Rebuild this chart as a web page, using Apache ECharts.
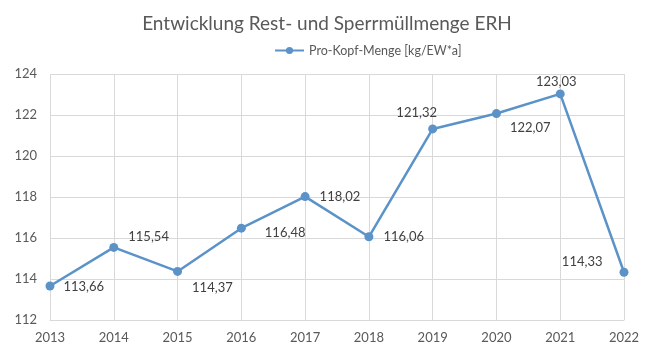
<!DOCTYPE html>
<html><head><meta charset="utf-8">
<script src="https://cdn.jsdelivr.net/npm/echarts@6/dist/echarts.min.js"></script>
<style>html,body{margin:0;padding:0;background:#fff}#c{width:654px;height:359px}</style>
</head><body><div id="c"></div>
<script>
const years = ['2013','2014','2015','2016','2017','2018','2019','2020','2021','2022'];
const values = [113.66, 115.54, 114.37, 116.48, 118.02, 116.06, 121.32, 122.07, 123.03, 114.33];
const yTicks = [112, 114, 116, 118, 120, 122, 124];
const labelPos = [
  ['right',[4,1]],['right',[5,-11]],['right',[5,16]],['right',[14,5]],['right',[5,0]],
  ['right',[5,0]],['top',[-16,0]],['right',[4,14]],['top',[-4,4]],['left',[-12,-10]]
];
const font = 'Lato, "Open Sans", sans-serif';
const chart = echarts.init(document.getElementById('c'));
chart.setOption({
  animation:false,
  title:{text:'Entwicklung Rest- und Sperrmüllmenge ERH',left:'center',top:9,
    textStyle:{fontFamily:font,fontSize:19,fontWeight:'normal',color:'#595959'}},
  legend:{top:39,left:269,itemWidth:29,itemHeight:9,itemGap:4,
    textStyle:{fontFamily:font,fontSize:12.5,color:'#595959'},
    data:['Pro-Kopf-Menge [kg/EW*a]']},
  grid:{left:50,right:30,top:74,bottom:39,containLabel:false},
  xAxis:{type:'category',data:years,boundaryGap:false,
    axisLine:{lineStyle:{color:'#d9d9d9'}},axisTick:{show:false},
    axisLabel:{fontFamily:font,fontSize:13,color:'#595959',margin:11},
    splitLine:{show:true,lineStyle:{color:'#d9d9d9'}}},
  yAxis:{type:'value',min:yTicks[0],max:yTicks[yTicks.length-1],interval:2,
    axisLine:{show:false},axisTick:{show:false},
    axisLabel:{fontFamily:font,fontSize:13,color:'#595959',margin:13},
    splitLine:{lineStyle:{color:'#d9d9d9'}}},
  series:[{name:'Pro-Kopf-Menge [kg/EW*a]',type:'line',
    data:values.map((v,i)=>({value:v,label:{position:labelPos[i][0],offset:labelPos[i][1]}})),
    symbol:'circle',symbolSize:9,
    lineStyle:{color:'#5b93c9',width:2.5},itemStyle:{color:'#5b93c9'},
    label:{show:true,fontFamily:font,fontSize:13,color:'#404040',
      formatter:p=>p.value.toFixed(2).replace('.',',')}}]
});
</script></body></html>
